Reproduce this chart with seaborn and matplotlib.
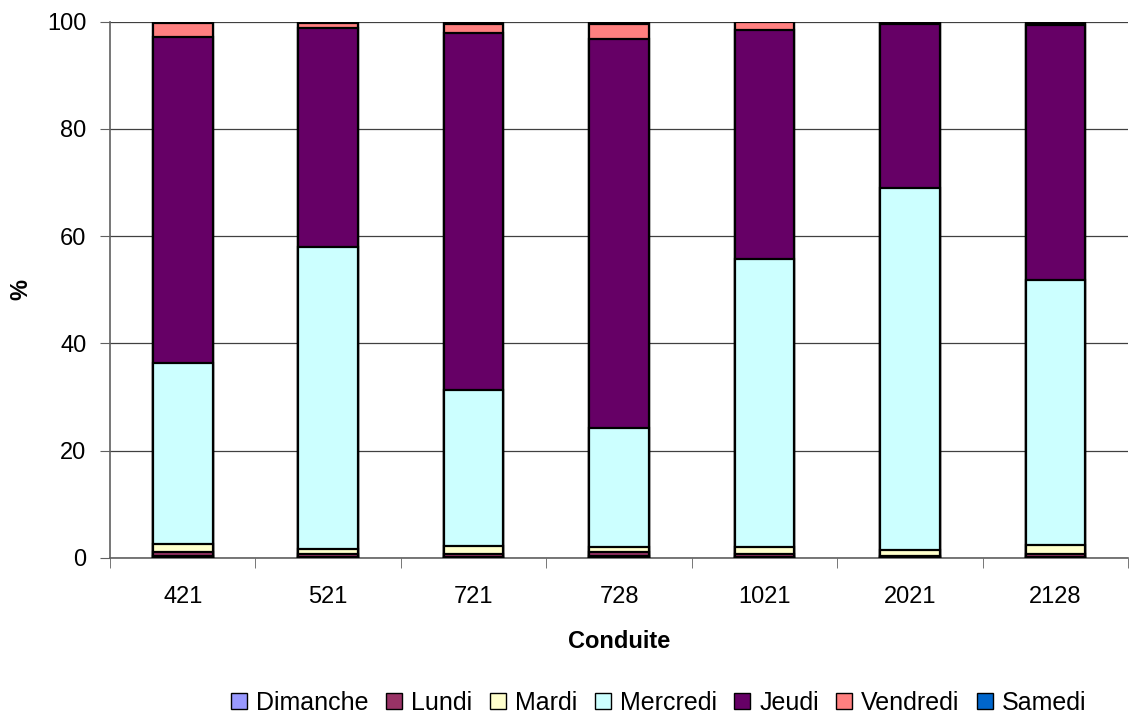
import numpy as np
import pandas as pd
import matplotlib
matplotlib.use("Agg")
import matplotlib.pyplot as plt
import seaborn as sns
from matplotlib.patches import Patch

conduites = ["421", "521", "721", "728", "1021", "2021", "2128"]
jours = ["Dimanche", "Lundi", "Mardi", "Mercredi", "Jeudi", "Vendredi", "Samedi"]
dimanche = [0.3, 0.1, 0.1, 0.3, 0.1, 0.2, 0.1]
lundi = [0.9, 0.6, 0.7, 0.8, 0.7, 0.2, 0.6]
mardi = [1.4, 1.0, 1.4, 1.0, 1.3, 1.0, 1.8]
mercredi = [33.8, 56.3, 29.1, 22.2, 53.7, 67.6, 49.3]
jeudi = [60.7, 40.9, 66.5, 72.5, 42.7, 30.6, 47.5]
vendredi = [2.6, 0.8, 1.8, 2.8, 1.5, 0.1, 0.5]
samedi = [0.3, 0.3, 0.4, 0.4, 0.0, 0.3, 0.2]
couleurs = ["#9999FF", "#993366", "#FFFFCC", "#CCFFFF", "#660066", "#FF8080", "#0066CC"]

df = pd.DataFrame({"Dimanche": dimanche, "Lundi": lundi, "Mardi": mardi,
                   "Mercredi": mercredi, "Jeudi": jeudi, "Vendredi": vendredi,
                   "Samedi": samedi}, index=conduites)
cumul = df.cumsum(axis=1)

sns.set_style("white")
plt.rcParams['font.family'] = ['Liberation Sans', 'DejaVu Sans']
plt.rcParams['text.color'] = 'black'
plt.rcParams['axes.labelcolor'] = 'black'
plt.rcParams['xtick.color'] = 'black'
plt.rcParams['ytick.color'] = 'black'

fig = plt.figure(figsize=(11.4, 7.2), dpi=100)
ax = fig.add_axes([0.0965, 0.225, 0.893, 0.745])

# on dessine du haut vers le bas pour empiler
for j in reversed(range(len(jours))):
    sns.barplot(x=conduites, y=cumul[jours[j]].values, color=couleurs[j],
                edgecolor="black", linewidth=1.6, width=0.41, saturation=1,
                ax=ax, zorder=3)

ax.set_ylim(0, 100)
ax.set_xlim(-0.5, len(conduites) - 0.5)
ax.set_yticks([0, 20, 40, 60, 80, 100])
ax.yaxis.grid(True, color="#404040", linewidth=0.9)
ax.set_axisbelow(True)
for s in ["top", "right"]:
    ax.spines[s].set_visible(False)
for s in ["left", "bottom"]:
    ax.spines[s].set_color("#606060")
    ax.spines[s].set_linewidth(1.2)
ax.set_xticks(np.arange(len(conduites)))
ax.set_xticklabels(conduites)
ax.tick_params(axis="x", length=0, labelsize=17, pad=20)
ax.set_xticks(np.arange(len(conduites) + 1) - 0.5, minor=True)
ax.tick_params(axis="x", which="minor", length=7, color="#606060", direction="out", bottom=True)
ax.tick_params(axis="y", length=7, color="#606060", direction="out", labelsize=17, left=True, pad=10)
ax.set_xlabel("Conduite", fontsize=17, fontweight="bold", labelpad=16)
ax.set_ylabel("%", fontsize=17, fontweight="bold")
ax.yaxis.set_label_coords(-0.076, 0.5)

handles = [Patch(facecolor=c, edgecolor="black", linewidth=1) for c in couleurs]
fig.legend(handles, jours, loc="lower center", bbox_to_anchor=(0.578, -0.024), ncol=7,
           frameon=False, fontsize=18, handlelength=0.65, handleheight=0.65,
           handletextpad=0.35, columnspacing=0.7)

fig.savefig("out.png", dpi=100)
